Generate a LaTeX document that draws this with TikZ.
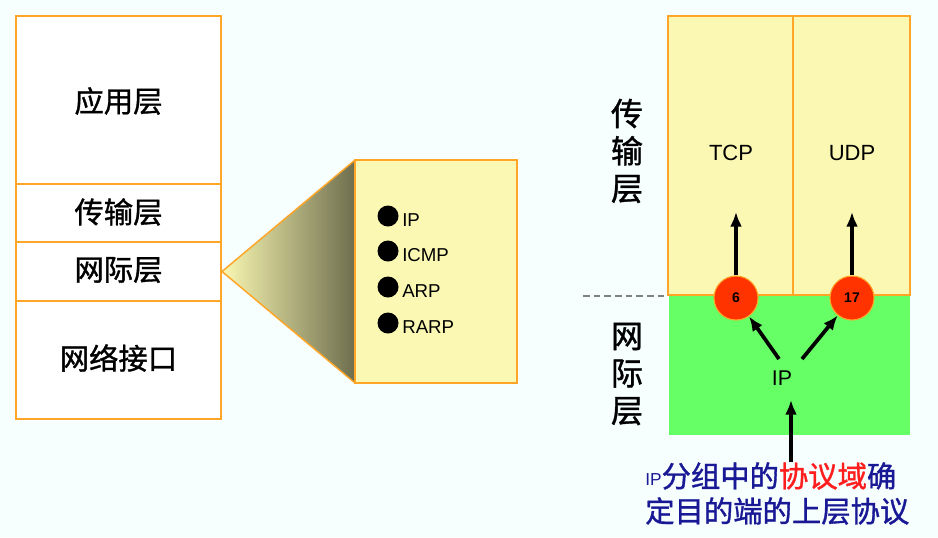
\documentclass[tikz,border=0pt]{standalone}
\usepackage{fontspec}
\setmainfont{Liberation Sans}
\newfontfamily\cjk{Noto Sans CJK SC}[FakeBold=1.2]
\usetikzlibrary{arrows.meta}

\definecolor{bgcyan}{RGB}{247,254,254}
\definecolor{boxorange}{RGB}{255,165,40}
\definecolor{paleyellow}{RGB}{250,248,178}
\definecolor{wedgedark}{RGB}{110,110,78}
\definecolor{ipgreen}{RGB}{102,255,102}
\definecolor{portred}{RGB}{255,51,0}
\definecolor{notered}{RGB}{255,30,30}
\definecolor{noteblue}{RGB}{25,25,150}

\tikzset{
  layerbox/.style={draw=boxorange, line width=1.1pt},
  layertext/.style={inner sep=0pt, font=\cjk\fontsize{22}{26}\selectfont},
  sidetext/.style={inner sep=0pt, align=center, font=\cjk\fontsize{24}{28}\selectfont},
  portc/.style={circle, draw=boxorange, line width=0.8pt, fill=portred, minimum size=33pt, inner sep=0pt, font=\bfseries\fontsize{10.5}{10.5}\selectfont},
  uparr/.style={line width=2.8pt, -{Latex[length=11pt,width=9pt]}}
}

\begin{document}
\begin{tikzpicture}[x=0.75pt,y=0.75pt,yscale=-1,xscale=1]

\fill[bgcyan] (0,0) rectangle (938,537);
\useasboundingbox (0,0) rectangle (938,537);

% protocol stack
\draw [layerbox, fill=white] (16,16) rectangle (221,184);
\draw [layerbox, fill=white] (16,184) rectangle (221,242);
\draw [layerbox, fill=white] (16,242) rectangle (221,301);
\draw [layerbox, fill=white] (16,301) rectangle (221,419);

\node [layertext] (app) at (118.5,101) {应用层};
\node [layertext] (trans) at (118.5,212) {传输层};
\node [layertext] (inet) at (118.5,270) {网际层};
\node [layertext] (link) at (118.5,358) {网络接口};

% zoom wedge and protocol list
\shade [left color=paleyellow, right color=wedgedark] (222,271.5) -- (355,160) -- (355,383) -- cycle;
\draw [boxorange, line width=1.1pt] (355,160) -- (222,271.5) -- (355,383);
\draw [layerbox, fill=paleyellow] (355,160) rectangle (517,383);

\foreach \i/\y/\t in {1/216/IP, 2/251/ICMP, 3/287/ARP, 4/323/RARP} {
  \fill (388,\y) circle [radius=10.5];
  \node [anchor=west, inner sep=0pt, font=\fontsize{14}{14}\selectfont] (p-\i) at (402,\y+4) {\t};
}

% right part
\fill [ipgreen] (669,295) rectangle (910,435);
\draw [layerbox, fill=paleyellow] (668,16) rectangle (793,295);
\draw [layerbox, fill=paleyellow] (793,16) rectangle (910,295);
\draw [dashed, gray, line width=1pt, dash pattern=on 5pt off 3pt] (583,296) -- (668,296);

\node [inner sep=0pt, font=\fontsize{16.5}{16.5}\selectfont] (tcp) at (731,153) {TCP};
\node [inner sep=0pt, font=\fontsize{16.5}{16.5}\selectfont] (udp) at (852,153) {UDP};
\node [inner sep=0pt, font=\fontsize{16}{16}\selectfont] (ip) at (782,378) {IP};

\node [portc] (six) at (736,298) {6};
\node [portc] (seventeen) at (852,298) {17};

\coordinate (tcpin) at (736,212);
\coordinate (udpin) at (852,212);
\coordinate (ipl) at (779,359);
\coordinate (ipr) at (802,359);
\coordinate (ipin) at (791,400);

\draw [uparr] (six.north) -- (tcpin);
\draw [uparr] (seventeen.north) -- (udpin);
\draw [uparr] (ipl) -- (six);
\draw [uparr] (ipr) -- (seventeen);

\node [sidetext] (tside) at (627,151) {传\\输\\层};
\node [sidetext] (iside) at (627,374) {网\\际\\层};

% note
\node [anchor=west, inner sep=0pt, text=noteblue, font=\cjk\fontsize{22}{22}\selectfont] (note1) at (645,476) {\raisebox{1pt}{\fontspec{Liberation Sans}\fontsize{13}{13}\selectfont IP}分组中的\textcolor{notered}{协议域}确};
\node [anchor=west, inner sep=0pt, text=noteblue, font=\cjk\fontsize{22}{22}\selectfont] (note2) at (645,511) {定目的端的上层协议};

\draw [uparr] (note1.north -| ipin) -- (ipin);

\end{tikzpicture}
\end{document}
